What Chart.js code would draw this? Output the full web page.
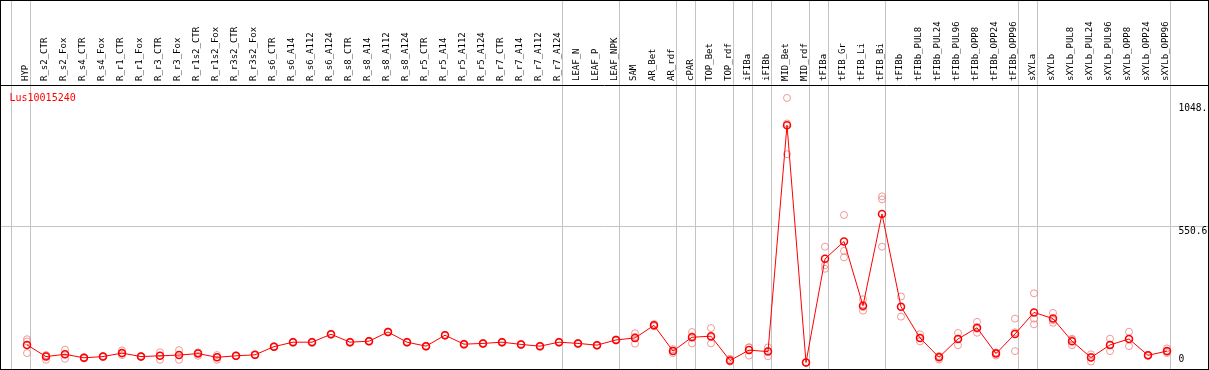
<!DOCTYPE html>
<html><head><meta charset="utf-8">
<script src="https://cdn.jsdelivr.net/npm/chart.js@4.4.0/dist/chart.umd.min.js"></script>
<style>html,body{margin:0;padding:0;background:#fff;overflow:hidden}#wrap{width:1209px;height:370px;position:relative}canvas{display:block}</style>
</head><body><div id="wrap"><canvas id="c" width="1209" height="370"></canvas></div>
<script>
const categories = ['HYP','R_s2_CTR','R_s2_Fox','R_s4_CTR','R_s4_Fox','R_r1_CTR','R_r1_Fox','R_r3_CTR','R_r3_Fox','R_r1s2_CTR','R_r1s2_Fox','R_r3s2_CTR','R_r3s2_Fox','R_s6_CTR','R_s6_A14','R_s6_A112','R_s6_A124','R_s8_CTR','R_s8_A14','R_s8_A112','R_s8_A124','R_r5_CTR','R_r5_A14','R_r5_A112','R_r5_A124','R_r7_CTR','R_r7_A14','R_r7_A112','R_r7_A124','LEAF_N','LEAF_P','LEAF_NPK','SAM','AR_Bet','AR_rdf','cPAR','TOP_Bet','TOP_rdf','iFIBa','iFIBb','MID_Bet','MID_rdf','tFIBa','tFIB_Gr','tFIB_Li','tFIB_Bi','tFIBb','tFIBb_PUL8','tFIBb_PUL24','tFIBb_PUL96','tFIBb_OPP8','tFIBb_OPP24','tFIBb_OPP96','sXYLa','sXYLb','sXYLb_PUL8','sXYLb_PUL24','sXYLb_PUL96','sXYLb_OPP8','sXYLb_OPP24','sXYLb_OPP96'];
const meanValues = [71,24,33,19,24,38,24,27,30,36,21,27,31,64,82,82,114,82,86,123,82,66,110,74,77,82,73,66,82,77,70,91,99,150,46,102,106,8,50,44,957,0,418,488,229,599,225,99,21,95,140,36,115,202,177,86,20,71,95,29,46];
const rep1 = [94,30,52,21,26,49,26,41,50,41,30,28,32,66,84,84,116,84,88,125,84,68,112,76,79,84,75,68,84,79,72,93,118,155,54,123,139,15,61,61,1067,0,467,595,255,670,266,114,12,119,164,28,177,279,200,96,33,96,124,31,57];
const rep2 = [85,11,15,16,22,30,22,11,11,27,11,25,29,62,80,80,112,80,84,121,80,64,108,72,75,80,71,64,80,75,68,89,104,146,38,77,77,4,28,25,840,0,392,450,209,658,185,85,25,70,120,40,46,177,160,70,4,46,66,27,38];
const rep3 = [38,28,33,20,24,36,24,28,30,38,22,27,31,64,82,82,114,82,86,123,82,66,110,74,77,82,73,66,82,77,70,91,76,149,46,106,102,5,61,46,964,0,378,424,223,467,224,98,26,96,136,40,122,154,171,92,23,71,95,29,43];
const yTickValues = [0, 550.6, 1048];
const yTickLabels = ['0', '550.6', '1048.'];
const chartTitle = 'Lus10015240';
const groupEnds = [-1, 0, 28, 31, 34, 35, 37, 38, 39, 41, 42, 45, 52, 53, 60];

const MONO = "'DejaVu Sans Mono', monospace";
const RED = '#ff0000';
const PINK = 'rgba(236,120,120,0.75)';
const GRAY = '#c4c4c4';

const framePlugin = {
  id: 'frame',
  beforeDraw(chart) {
    const ctx = chart.ctx, W = chart.width, H = chart.height;
    const xs = chart.scales.x, ys = chart.scales.y;
    ctx.save();
    ctx.fillStyle = '#fff';
    ctx.fillRect(0, 0, W, H);
    ctx.strokeStyle = GRAY;
    ctx.lineWidth = 1;
    groupEnds.forEach(i => {
      const px = Math.round(xs.getPixelForValue(i) + 3) + 0.5;
      ctx.beginPath(); ctx.moveTo(px, 0); ctx.lineTo(px, H); ctx.stroke();
    });
    const gy = Math.round(ys.getPixelForValue(yTickValues[1])) + 0.5;
    ctx.beginPath(); ctx.moveTo(0, gy); ctx.lineTo(W, gy); ctx.stroke();
    ctx.restore();
  },
  afterDraw(chart) {
    const ctx = chart.ctx, W = chart.width, H = chart.height;
    const ys = chart.scales.y, ca = chart.chartArea;
    const xs = chart.scales.x;
    ctx.save();
    ctx.strokeStyle = '#000';
    ctx.lineWidth = 1;
    ctx.strokeRect(0.5, 0.5, W - 1, H - 1);
    ctx.beginPath(); ctx.moveTo(0, Math.round(ca.top) + 0.5); ctx.lineTo(W, Math.round(ca.top) + 0.5); ctx.stroke();
    ctx.fillStyle = RED;
    ctx.font = '10px ' + MONO;
    ctx.textBaseline = 'alphabetic';
    ctx.textAlign = 'left';
    ctx.fillText(chartTitle, 9.5, 101);
    ctx.fillStyle = '#000';
    ctx.font = '9.6px ' + MONO;
    const lx = Math.round(xs.getPixelForValue(groupEnds[groupEnds.length - 1]) + 3) + 8.5;
    yTickValues.forEach((v, k) => {
      const py = ys.getPixelForValue(v);
      const by = (v === 0) ? py - 1 : py + 8;
      ctx.fillText(yTickLabels[k], lx, by);
    });
    ctx.restore();
  }
};

const repStyle = {
  showLine: false,
  borderColor: PINK,
  backgroundColor: 'rgba(0,0,0,0)',
  pointRadius: 3.5,
  pointBorderWidth: 1,
  pointHoverRadius: 3.5,
  clip: false
};

new Chart(document.getElementById('c'), {
  type: 'line',
  data: {
    labels: categories,
    datasets: [
      {
        label: chartTitle,
        data: meanValues,
        borderColor: RED,
        borderWidth: 1,
        backgroundColor: 'rgba(0,0,0,0)',
        pointBorderColor: RED,
        pointBackgroundColor: 'rgba(0,0,0,0)',
        pointRadius: 3.5,
        pointBorderWidth: 1.5,
        tension: 0,
        clip: false
      },
      Object.assign({ label: 'rep1', data: rep1 }, repStyle),
      Object.assign({ label: 'rep2', data: rep2 }, repStyle),
      Object.assign({ label: 'rep3', data: rep3 }, repStyle)
    ]
  },
  options: {
    responsive: false,
    animation: false,
    devicePixelRatio: 1,
    layout: { padding: { left: 27, right: 42, top: 0, bottom: 1 } },
    plugins: { legend: { display: false }, tooltip: { enabled: false }, title: { display: false } },
    scales: {
      x: {
        type: 'category',
        position: 'top',
        offset: false,
        grid: { display: false, drawTicks: false },
        border: { display: false },
        ticks: {
          autoSkip: false,
          maxRotation: 90,
          minRotation: 90,
          padding: 4,
          labelOffset: 8,
          color: '#000',
          font: { family: MONO, size: 9, lineHeight: 1 }
        },
        afterFit(s) { s.height = 85; s.paddingLeft = 0; s.paddingRight = 0; }
      },
      y: {
        display: false,
        min: -8,
        max: 1119
      }
    }
  },
  plugins: [framePlugin]
});
</script>
</body></html>
